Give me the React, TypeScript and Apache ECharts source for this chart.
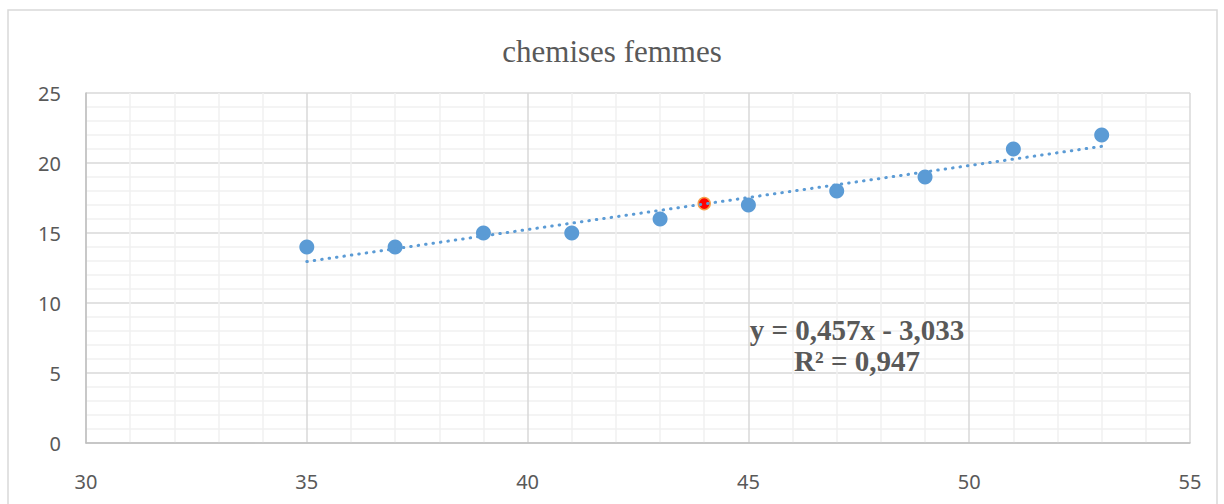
import React, { useEffect, useRef } from "react";
import * as echarts from "echarts";

const title = "chemises femmes";
const sizes = [35, 37, 39, 41, 43, 45, 47, 49, 51, 53];
const counts = [14, 14, 15, 15, 16, 17, 18, 19, 21, 22];
const highlightPoint = [44, 17.1];
const trendStart = [35, 12.96];
const trendEnd = [53, 21.19];
const equationLabel = "y = 0,457x - 3,033";
const r2Label = "R² = 0,947";

export default function App() {
  const ref = useRef<HTMLDivElement>(null);
  useEffect(() => {
    document.body.style.margin = "0";
    const chart = echarts.init(ref.current!, null, { renderer: "svg" });
    const tickFont = { color: "#595959", fontSize: 20, fontFamily: "'Noto Sans', sans-serif" };
    chart.setOption({
      animation: false,
      backgroundColor: "#ffffff",
      title: {
        text: title,
        left: "center",
        top: 31,
        textStyle: { fontFamily: "'Liberation Serif', serif", fontSize: 31, fontWeight: "normal", color: "#595959" },
      },
      graphic: [
        {
          type: "rect",
          shape: { x: 8, y: 10, width: 1209, height: 510 },
          style: { fill: "none", stroke: "#d9d9d9", lineWidth: 1.5 },
          silent: true,
        },
        {
          type: "text",
          x: 857,
          y: 345,
          style: {
            text: equationLabel + "\n" + r2Label,
            align: "center",
            verticalAlign: "middle",
            fontFamily: "'Liberation Serif', serif",
            fontWeight: "bold",
            fontSize: 29,
            lineHeight: 31,
            fill: "#595959",
          },
          z: 100,
        },
      ],
      grid: { left: 86, right: 34, top: 93, bottom: 61 },
      xAxis: {
        type: "value",
        min: 30,
        max: 55,
        interval: 5,
        axisLine: { show: true, lineStyle: { color: "#bfbfbf", width: 1.5 } },
        axisTick: { show: false },
        axisLabel: { ...tickFont, margin: 28 },
        splitLine: { show: true, lineStyle: { color: "#d9d9d9", width: 1.5 } },
        minorTick: { show: false, splitNumber: 5 },
        minorSplitLine: { show: true, lineStyle: { color: "#f0f0f0", width: 1.5 } },
      },
      yAxis: {
        type: "value",
        min: 0,
        max: 25,
        interval: 5,
        axisLine: { show: true, lineStyle: { color: "#bfbfbf", width: 1.5 } },
        axisTick: { show: false },
        axisLabel: { ...tickFont, margin: 25 },
        splitLine: { show: true, lineStyle: { color: "#d9d9d9", width: 1.5 } },
        minorTick: { show: false, splitNumber: 5 },
        minorSplitLine: { show: true, lineStyle: { color: "#f0f0f0", width: 1.5 } },
      },
      series: [
        {
          type: "scatter",
          data: sizes.map((s, i) => [s, counts[i]]),
          symbolSize: 15,
          itemStyle: { color: "#5b9bd5", opacity: 1 },
          z: 2,
        },
        {
          type: "scatter",
          data: [highlightPoint],
          symbolSize: 12,
          itemStyle: { color: "#ff0000", borderColor: "#f4a04a", borderWidth: 1.5, opacity: 1 },
          z: 3,
        },
        {
          type: "line",
          data: [trendStart, trendEnd],
          symbol: "none",
          lineStyle: { color: "#5b9bd5", width: 3, type: [0.5, 7], cap: "round" },
          z: 4,
        },
      ],
    });
    return () => chart.dispose();
  }, []);
  return <div ref={ref} style={{ width: 1224, height: 504 }} />;
}
